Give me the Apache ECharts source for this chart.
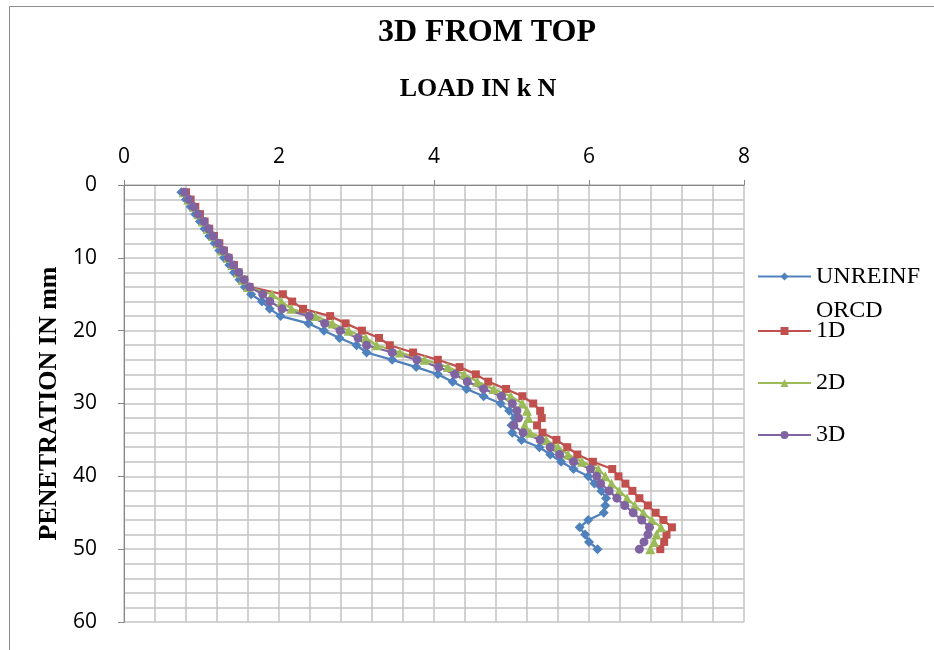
<!DOCTYPE html>
<html><head><meta charset="utf-8">
<script src="https://cdn.jsdelivr.net/npm/echarts@6/dist/echarts.min.js"></script>
<style>html,body{margin:0;padding:0;background:#fff}#c{width:934px;height:650px}</style>
</head><body><div id="c"></div>
<script>
const chartTitle = '3D FROM TOP';
const xAxisTitle = 'LOAD IN k N';
const yAxisTitle = 'PENETRATION IN mm';
const seriesNames = ['UNREINFORCD', '1D', '2D', '3D'];
const penetration = [1,2,3,4,5,6,7,8,9,10,11,12,13,14,15,16,17,18,19,20,21,22,23,24,25,26,27,28,29,30,31,32,33,34,35,36,37,38,39,40,41,42,43,44,45,46,47,48,49,50];
const loadUnreinforced = [0.74,0.80,0.86,0.92,0.98,1.04,1.10,1.17,1.23,1.29,1.36,1.42,1.49,1.56,1.64,1.78,1.88,2.02,2.38,2.58,2.78,3.00,3.13,3.46,3.77,4.05,4.24,4.42,4.64,4.86,4.97,5.04,5.00,5.01,5.13,5.36,5.50,5.64,5.80,5.99,6.07,6.16,6.22,6.21,6.19,5.99,5.88,5.95,6.00,6.11];
const load1D = [0.80,0.86,0.92,0.98,1.04,1.10,1.16,1.23,1.29,1.35,1.42,1.48,1.55,1.62,2.05,2.17,2.31,2.66,2.86,3.07,3.29,3.43,3.73,4.05,4.33,4.54,4.70,4.93,5.14,5.28,5.37,5.39,5.33,5.40,5.58,5.72,5.85,6.05,6.30,6.38,6.47,6.56,6.65,6.76,6.86,6.96,7.07,7.00,6.97,6.92];
const load2D = [0.77,0.83,0.90,0.96,1.02,1.08,1.15,1.21,1.27,1.34,1.40,1.47,1.53,1.60,1.91,2.03,2.16,2.47,2.69,2.90,3.12,3.26,3.56,3.88,4.18,4.39,4.56,4.77,4.99,5.14,5.20,5.22,5.17,5.24,5.45,5.60,5.73,5.91,6.12,6.21,6.29,6.39,6.49,6.59,6.70,6.81,6.93,6.87,6.84,6.79];
const load3D = [0.78,0.84,0.90,0.96,1.03,1.09,1.15,1.22,1.28,1.35,1.41,1.48,1.55,1.62,1.79,1.88,2.04,2.39,2.59,2.79,3.02,3.13,3.46,3.78,4.06,4.27,4.43,4.64,4.87,5.01,5.07,5.09,5.03,5.15,5.37,5.50,5.62,5.80,6.02,6.10,6.15,6.26,6.36,6.46,6.57,6.68,6.78,6.76,6.71,6.65];
const xTicks = [0, 2, 4, 6, 8];
const yTicks = [0, 10, 20, 30, 40, 50, 60];

const colors = ['#4F81BD', '#C0504D', '#9BBB59', '#8064A2'];
const symbols = ['diamond', 'rect', 'triangle', 'circle'];
const symbolSizes = [10, 8, 10, 9];
const loads = [loadUnreinforced, load1D, load2D, load3D];

const serifFont = '"Liberation Serif", "Times New Roman", serif';
const sansFont = '"Open Sans", "Liberation Sans", sans-serif';
const gridColor = '#c4c4c4';

const series = seriesNames.map((name, k) => ({
  name: name,
  type: 'line',
  data: loads[k].map((v, i) => [v, penetration[i]]),
  symbol: symbols[k],
  symbolSize: symbolSizes[k],
  showAllSymbol: true,
  lineStyle: {color: colors[k], width: 2.25},
  itemStyle: {color: colors[k]},
  color: colors[k],
  animation: false
}));

const legendTops = [225.5, 319, 371, 423];
const legends = seriesNames.map((name, k) => {
  const isLong = name === 'UNREINFORCD';
  return {
    left: 757, top: legendTops[k], padding: 0,
    orient: 'vertical',
    itemWidth: 53, itemHeight: 10,
    selectedMode: false,
    data: [name],
    formatter: n => n === 'UNREINFORCD' ? '\nUNREINF\nORCD' : n,
    textStyle: isLong
      ? {fontFamily: serifFont, fontSize: 24, color: '#000', lineHeight: 34}
      : {fontFamily: serifFont, fontSize: 24, color: '#000', lineHeight: 24}
  };
});

const chart = echarts.init(document.getElementById('c'), null, {renderer: 'canvas'});
chart.setOption({
  animation: false,
  backgroundColor: '#fff',
  title: [
    {text: chartTitle, left: 487, top: 17, padding: 0, textAlign: 'center',
     textStyle: {fontFamily: serifFont, fontSize: 32, fontWeight: 'bold', color: '#000'}},
    {text: xAxisTitle, left: 478, top: 76, padding: 0, textAlign: 'center',
     textStyle: {fontFamily: serifFont, fontSize: 26, fontWeight: 'bold', color: '#000'}}
  ],
  legend: legends,
  grid: {left: 124, top: 185, width: 620, height: 437, containLabel: false},
  xAxis: {
    type: 'value', position: 'top', min: 0, max: 8, interval: 2,
    axisLine: {show: true, lineStyle: {color: '#868686', width: 1}},
    axisTick: {show: true, inside: false, length: 5, lineStyle: {color: '#868686'}},
    axisLabel: {margin: 17, color: '#000', fontFamily: sansFont, fontSize: 21,
      formatter: v => xTicks.includes(v) ? String(v) : ''},
    splitLine: {show: true, lineStyle: {color: gridColor, width: 1.5}},
    minorTick: {show: false, splitNumber: 5},
    minorSplitLine: {show: true, lineStyle: {color: gridColor, width: 1.5}}
  },
  yAxis: {
    type: 'value', inverse: true, min: 0, max: 60, interval: 10,
    name: yAxisTitle, nameLocation: 'middle', nameGap: 58, nameRotate: 90,
    nameTextStyle: {fontFamily: serifFont, fontSize: 26, fontWeight: 'bold', color: '#000'},
    axisLine: {show: true, lineStyle: {color: '#868686', width: 1}},
    axisTick: {show: true, inside: false, length: 6, lineStyle: {color: '#868686'}},
    axisLabel: {margin: 27, color: '#000', fontFamily: sansFont, fontSize: 21,
      formatter: v => yTicks.includes(v) ? String(v) : ''},
    splitLine: {show: true, lineStyle: {color: gridColor, width: 1.5}},
    minorTick: {show: false, splitNumber: 5},
    minorSplitLine: {show: true, lineStyle: {color: gridColor, width: 1.5}}
  },
  graphic: [{
    type: 'rect', silent: true, z: -1,
    shape: {x: 9.5, y: 6.5, width: 940, height: 660},
    style: {fill: 'none', stroke: '#8c8c8c', lineWidth: 1}
  }],
  series: series
});
</script></body></html>
